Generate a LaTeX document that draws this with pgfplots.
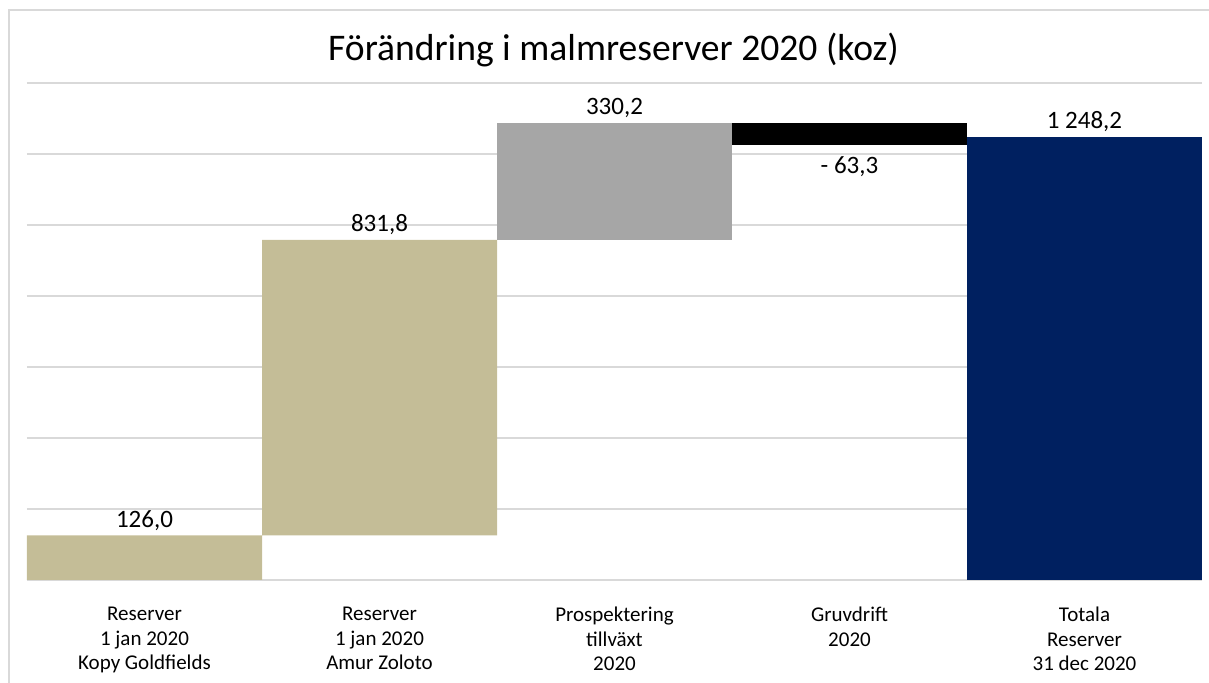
\documentclass[border=0pt]{standalone}
\usepackage{pgfplots}
\pgfplotsset{compat=1.18}
\usepackage{fontspec}
\setmainfont{Carlito}
\definecolor{tanc}{HTML}{C4BD97}
\definecolor{midgray}{HTML}{A6A6A6}
\definecolor{navy}{HTML}{002060}
\definecolor{gridc}{HTML}{D9D9D9}
\begin{document}
\begin{tikzpicture}
\useasboundingbox (0,0) rectangle (604.5pt,341.5pt);
\draw[gridc, line width=0.6pt] (4.5pt,0) -- (4.5pt,336.5pt) -- (604.5pt,336.5pt);
\node[anchor=base, font=\fontsize{18.8}{22}\selectfont] at (306.75pt,311pt) {Förändring i malmreserver 2020 (koz)};
\begin{axis}[
  at={(13.5pt,51.5pt)}, anchor=south west,
  scale only axis, width=587.5pt, height=248.5pt,
  xmin=-0.5, xmax=4.5, ymin=0, ymax=1400,
  ybar stacked, bar width=1,
  ytick={0,200,...,1400}, yticklabels={},
  ymajorgrids, grid style={gridc, line width=0.6pt},
  axis x line*=bottom, axis y line*=left,
  y axis line style={draw=none},
  x axis line style={gridc, line width=0.6pt, -},
  xtick={0,1,2,3,4}, major tick length=0,
  xticklabels={{Reserver\\1 jan 2020\\Kopy Goldfields},{Reserver\\1 jan 2020\\Amur Zoloto},{Prospektering\\tillväxt\\2020},{Gruvdrift\\2020},{Totala\\Reserver\\31 dec 2020}},
  xticklabel style={align=center, font=\fontsize{10.5}{12.25}\selectfont, yshift=-10pt},
  clip=false,
]
\addplot[draw=none, fill=white, fill opacity=0] coordinates {(0,0) (1,126) (2,957.8) (3,1224.7) (4,0)};
\addplot[draw=none, fill=tanc] coordinates {(0,126) (1,831.8) (2,0) (3,0) (4,0)};
\addplot[draw=none, fill=midgray] coordinates {(0,0) (1,0) (2,330.2) (3,0) (4,0)};
\addplot[draw=none, fill=black] coordinates {(0,0) (1,0) (2,0) (3,63.3) (4,0)};
\addplot[draw=none, fill=navy] coordinates {(0,0) (1,0) (2,0) (3,0) (4,1248.2)};
\node[anchor=base, yshift=4pt, font=\fontsize{12.5}{15}\selectfont] at (axis cs:0,126) {126,0};
\node[anchor=base, yshift=4.25pt, font=\fontsize{12.5}{15}\selectfont] at (axis cs:1,957.8) {831,8};
\node[anchor=base, yshift=4pt, font=\fontsize{12.5}{15}\selectfont] at (axis cs:2,1288) {330,2};
\node[anchor=base, yshift=-14pt, font=\fontsize{12.5}{15}\selectfont] at (axis cs:3,1224.7) {- 63,3};
\node[anchor=base, yshift=4pt, font=\fontsize{12.5}{15}\selectfont] at (axis cs:4,1248.2) {1 248,2};
\end{axis}
\end{tikzpicture}
\end{document}
